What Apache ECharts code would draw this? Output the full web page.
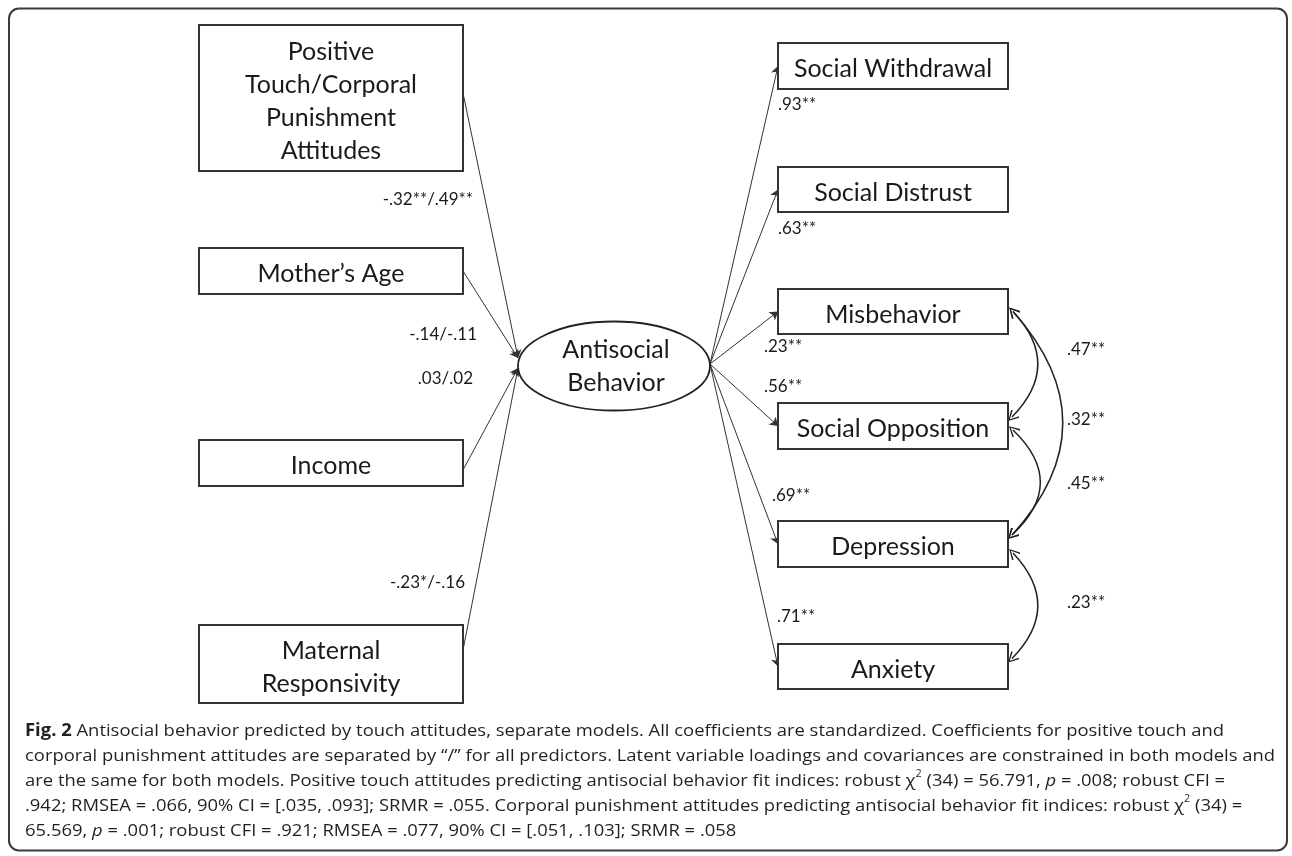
<!DOCTYPE html>
<html>
<head>
<meta charset="utf-8">
<style>
  html, body { margin: 0; padding: 0; background: #fff; }
  #chart { width: 1292px; height: 856px; }
</style>
<script src="https://cdn.jsdelivr.net/npm/echarts/dist/echarts.min.js"></script>
</head>
<body>
<div id="chart"></div>
<script>
// path model: 4 predictors -> latent -> 6 indicators, plus residual covariances
const predictors = ['Positive\nTouch/Corporal\nPunishment\nAttitudes', 'Mother’s Age', 'Income', 'Maternal\nResponsivity'];
const predictorCoefs = ['-.32**/.49**', '-.14/-.11', '.03/.02', '-.23*/-.16'];
const latentName = 'Antisocial\nBehavior';
const indicators = ['Social Withdrawal', 'Social Distrust', 'Misbehavior', 'Social Opposition', 'Depression', 'Anxiety'];
const loadings = ['.93**', '.63**', '.23**', '.56**', '.69**', '.71**'];
const covFrom = ['Misbehavior', 'Misbehavior', 'Social Opposition', 'Depression'];
const covTo = ['Social Opposition', 'Depression', 'Depression', 'Anxiety'];
const covValues = ['.47**', '.32**', '.45**', '.23**'];

const captionLines = [
  '{b|Fig. 2} Antisocial behavior predicted by touch attitudes, separate models. All coefficients are standardized. Coefficients for positive touch and',
  'corporal punishment attitudes are separated by “/” for all predictors. Latent variable loadings and covariances are constrained in both models and',
  'are the same for both models. Positive touch attitudes predicting antisocial behavior fit indices: robust χ{sup|2} (34) = 56.791, {i|p} = .008; robust CFI =',
  '.942; RMSEA = .066, 90% CI = [.035, .093]; SRMR = .055. Corporal punishment attitudes predicting antisocial behavior fit indices: robust χ{sup|2} (34) =',
  '65.569, {i|p} = .001; robust CFI = .921; RMSEA = .077, 90% CI = [.051, .103]; SRMR = .058'
];

// layout (diagram units, mapped 1:1 onto the canvas by hidden axes)
const leftCol = [199, 463];
const rightCol = [778, 1008];
const predictorRows = [[25, 171], [248, 294], [440, 486], [625, 703]];
const indicatorRows = [[43, 89], [167, 212], [289, 334], [403, 449], [521, 567], [644, 689]];
const latent = { cx: 614, cy: 366, rx: 96, ry: 44.5 };
const predictorExitY = [93, 271, 470, 650];
const latentEntryY = [358, 358, 368, 368];
const predictorLabelAt = [[473, 200], [477, 335], [473, 379], [465, 583]];
const loadingLabelAt = [[778, 105], [778, 229], [764, 347], [764, 387], [772, 496], [777, 617]];
const covLabelX = 1067;
const covLabelY = [350, 420, 484, 603];
const covFromDy = [0, 0, 4, 9];
const covToDy = [-9, -9, -9, -8];
const covCurve = [0.48, 0.45, 0.53, 0.48];

const diagFont = 'Lato';
const capFont = 'Open Sans';
const ink = '#1a1a1a';

const mid = r => (r[0] + r[1]) / 2;
const boxNames = predictors.concat(indicators);
const boxRows = predictorRows.map(r => [leftCol[0], r[0], leftCol[1], r[1]])
  .concat(indicatorRows.map(r => [rightCol[0], r[0], rightCol[1], r[1]]));

const pathLines = predictors.map((p, i) => ({
  coords: [[leftCol[1], predictorExitY[i]], [latent.cx - latent.rx, latentEntryY[i]]]
}));
const loadLines = indicators.map((n, i) => ({
  coords: [[latent.cx + latent.rx, latent.cy - 2], [rightCol[0], mid(indicatorRows[i])]]
}));
const covLines = covFrom.map((f, i) => {
  const a = indicatorRows[indicators.indexOf(f)];
  const b = indicatorRows[indicators.indexOf(covTo[i])];
  return {
    coords: [[rightCol[1] + 5, mid(a) + covFromDy[i]], [rightCol[1] + 4, mid(b) + covToDy[i]]],
    lineStyle: { curveness: covCurve[i] }
  };
});

// all edge labels
const labelTexts = predictorCoefs.concat(loadings, covValues);
const labelAligns = predictorCoefs.map(() => 'right').concat(loadings.map(() => 'left'), covValues.map(() => 'left'));
const labelPos = predictorLabelAt.concat(loadingLabelAt, covLabelY.map(y => [covLabelX, y]));

// caption width fit
const capSize = 17;
const measure = document.createElement('canvas').getContext('2d');
measure.font = capSize + 'px "' + capFont + '"';
const plain = captionLines[1].replace(/\{\w+\|([^}]*)\}/g, '$1');
const capScale = 1250 / measure.measureText(plain).width;

const chevron = 'path://M5,0 L10,9 L9,10 L5,2.2 L1,10 L0,9 Z';

const chart = echarts.init(document.getElementById('chart'));
chart.setOption({
  animation: false,
  grid: { left: 0, right: 0, top: 0, bottom: 0 },
  xAxis: { type: 'value', min: 0, max: 1292, show: false },
  yAxis: { type: 'value', min: 0, max: 856, inverse: true, show: false },
  graphic: [
    {
      type: 'rect',
      shape: { x: 9, y: 8.5, width: 1278, height: 842, r: 10 },
      style: { fill: 'none', stroke: '#3a3a3a', lineWidth: 2 },
      silent: true
    },
    {
      type: 'group',
      x: 25,
      y: 0,
      scaleX: capScale,
      children: captionLines.map((t, i) => ({
        type: 'text',
        x: 0,
        y: 731 + i * 25,
        style: {
          text: t,
          fontFamily: capFont,
          fontSize: capSize,
          fill: '#231f20',
          verticalAlign: 'middle',
          rich: {
            b: { fontFamily: capFont, fontSize: capSize, fontWeight: 'bold', fill: '#231f20' },
            i: { fontFamily: capFont, fontSize: capSize, fontStyle: 'italic', fill: '#231f20' },
            sup: { fontFamily: capFont, fontSize: 10, fill: '#231f20', verticalAlign: 'top', lineHeight: 23 }
          }
        }
      }))
    }
  ],
  series: [
    {
      type: 'lines',
      coordinateSystem: 'cartesian2d',
      symbol: ['none', 'arrow'],
      symbolSize: 8,
      lineStyle: { color: '#333', width: 1, opacity: 1 },
      data: pathLines.concat(loadLines),
      z: 2
    },
    {
      type: 'lines',
      coordinateSystem: 'cartesian2d',
      symbol: [chevron, chevron],
      symbolSize: 11,
      lineStyle: { color: '#222', width: 1.5, opacity: 1 },
      data: covLines,
      z: 2
    },
    {
      type: 'custom',
      coordinateSystem: 'cartesian2d',
      data: boxRows,
      z: 3,
      renderItem(params, api) {
        const p0 = api.coord([api.value(0), api.value(1)]);
        const p1 = api.coord([api.value(2), api.value(3)]);
        return {
          type: 'group',
          children: [
            {
              type: 'rect',
              shape: { x: p0[0], y: p0[1], width: p1[0] - p0[0], height: p1[1] - p0[1] },
              style: { fill: '#fff', stroke: '#333', lineWidth: 2 }
            },
            {
              type: 'text',
              style: {
                text: boxNames[params.dataIndex],
                x: (p0[0] + p1[0]) / 2,
                y: (p0[1] + p1[1]) / 2 + 3,
                align: 'center',
                verticalAlign: 'middle',
                fontFamily: diagFont,
                fontSize: 25,
                lineHeight: 33,
                fill: ink
              }
            }
          ]
        };
      }
    },
    {
      type: 'custom',
      coordinateSystem: 'cartesian2d',
      data: [[latent.cx, latent.cy]],
      z: 3,
      renderItem(params, api) {
        const c = api.coord([api.value(0), api.value(1)]);
        const s = api.size([latent.rx, latent.ry]);
        return {
          type: 'group',
          children: [
            {
              type: 'ellipse',
              shape: { cx: c[0], cy: c[1], rx: s[0], ry: s[1] },
              style: { fill: '#fff', stroke: '#222', lineWidth: 1.8 }
            },
            {
              type: 'text',
              style: {
                text: latentName,
                x: c[0] + 2,
                y: c[1],
                align: 'center',
                verticalAlign: 'middle',
                fontFamily: diagFont,
                fontSize: 25,
                lineHeight: 33,
                fill: ink
              }
            }
          ]
        };
      }
    },
    {
      type: 'custom',
      coordinateSystem: 'cartesian2d',
      data: labelPos,
      z: 4,
      renderItem(params, api) {
        const p = api.coord([api.value(0), api.value(1)]);
        return {
          type: 'text',
          style: {
            text: labelTexts[params.dataIndex],
            x: p[0],
            y: p[1],
            align: labelAligns[params.dataIndex],
            verticalAlign: 'middle',
            fontFamily: diagFont,
            fontSize: 17,
            fill: ink
          }
        };
      }
    }
  ]
});
</script>
</body>
</html>
